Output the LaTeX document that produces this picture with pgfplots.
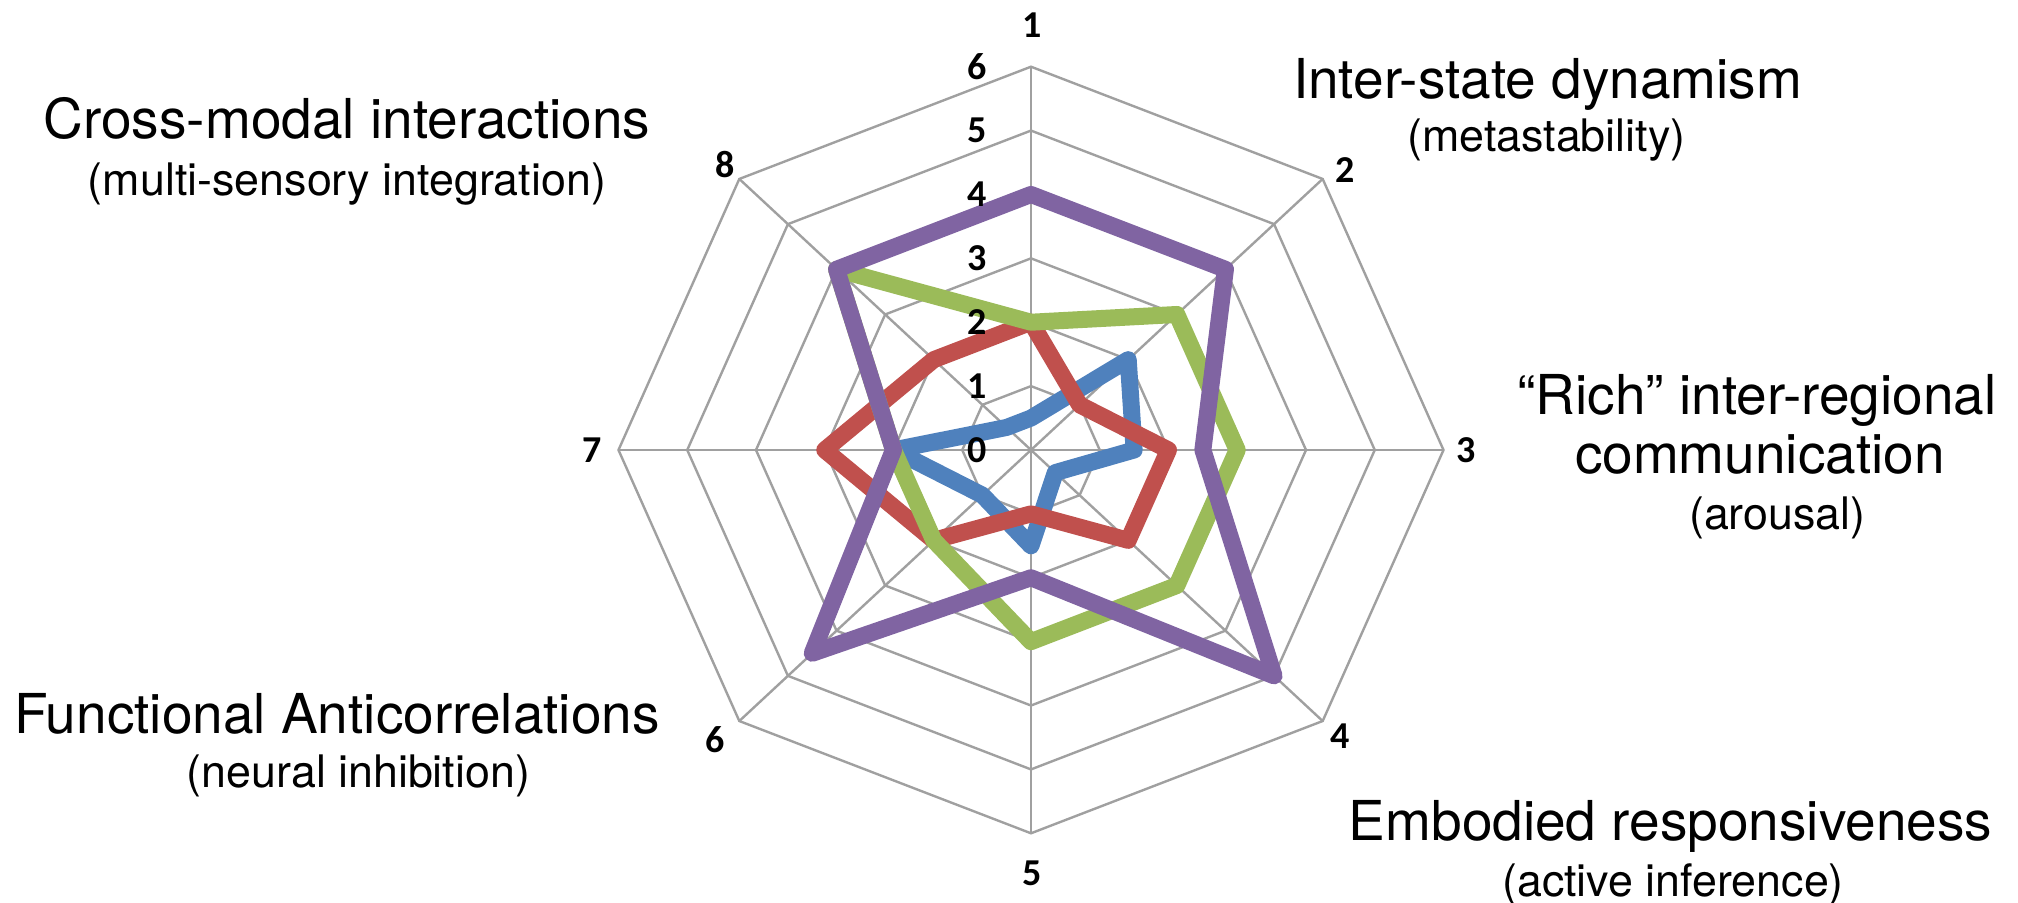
\documentclass[border=0pt]{standalone}
\usepackage{fontspec}
\setmainfont{TeX Gyre Heros}
\newfontfamily\numfont{Carlito}
\usepackage{pgfplots}
\pgfplotsset{compat=1.18}

\definecolor{sBlue}{HTML}{4F81BD}
\definecolor{sRed}{HTML}{C0504D}
\definecolor{sGreen}{HTML}{9BBB59}
\definecolor{sPurple}{HTML}{8064A2}
\definecolor{gridgray}{HTML}{A0A0A0}

\begin{document}
\begin{tikzpicture}
	\begin{axis}[
			at={(0,0)}, anchor=center,
			scale only axis,
			width=412.5pt, height=383.3pt,
			xmin=-6, xmax=6, ymin=-6, ymax=6,
			hide axis, clip=false,
			every axis plot/.append style={data cs=polar, line join=round, line cap=round},
		]
		% octagonal grid: rings 1..6 and the eight spokes
		\pgfplotsinvokeforeach{1,...,6}{
			\addplot[gridgray, line width=1.2pt] coordinates {
				(90,#1) (45,#1) (0,#1) (-45,#1) (-90,#1) (-135,#1) (180,#1) (135,#1) (90,#1)};
		}
		\pgfplotsinvokeforeach{90,45,0,-45,-90,-135,180,135}{
			\addplot[gridgray, line width=1.2pt] coordinates {(#1,0) (#1,6)};
		}

		% series, axes 1..8 clockwise from the top
		\addplot[sBlue, line width=8.5pt] coordinates {
			(90,0.5) (45,2) (0,1.5) (-45,0.5) (-90,1.5) (-135,1) (180,2) (135,0.5) (90,0.5)};
		\addplot[sRed, line width=8.5pt] coordinates {
			(90,2) (45,1) (0,2) (-45,2) (-90,1) (-135,2) (180,3) (135,2) (90,2)};
		\addplot[sGreen, line width=8.5pt] coordinates {
			(90,2) (45,3) (0,3) (-45,3) (-90,3) (-135,2) (180,2) (135,4) (90,2)};
		\addplot[sPurple, line width=8.5pt] coordinates {
			(90,4) (45,4) (0,2.5) (-45,5) (-90,2) (-135,4.5) (180,2) (135,4) (90,4)};
	\end{axis}

	% radial scale
	\begin{scope}[every node/.style={font=\numfont\bfseries\fontsize{19}{22}\selectfont, inner sep=0pt}]
		\foreach \k in {0,...,6} {
			\node at (-27pt, {31.95*\k pt}) {\k};
		}
		\node at (0.5pt, 212.5pt) {1};
		\node at (157pt, 140pt) {2};
		\node at (217.5pt, 0pt) {3};
		\node at (154.5pt, -143pt) {4};
		\node at (0.5pt, -211.5pt) {5};
		\node at (-157.7pt, -145pt) {6};
		\node at (-219.5pt, 0pt) {7};
		\node at (-153pt, 142.5pt) {8};
	\end{scope}

	% category labels
	\tikzset{big/.style={anchor=base, inner sep=0pt, font=\fontsize{27.5}{30}\selectfont},
		small/.style={anchor=base, inner sep=0pt, font=\fontsize{22.4}{26}\selectfont}}
	\node[big] at (-342pt, 155.5pt) {Cross-modal interactions};
	\node[small] at (-342pt, 127pt) {(multi-sensory integration)};
	\node[big] at (258.3pt, 175.5pt) {Inter-state dynamism};
	\node[small] at (257.7pt, 149pt) {(metastability)};
	\node[big] at (363pt, 17.8pt) {“Rich” inter-regional};
	\node[big] at (364.5pt, -11.8pt) {communication};
	\node[small] at (373.2pt, -40pt) {(arousal)};
	\node[big] at (-347pt, -141.8pt) {Functional Anticorrelations};
	\node[small] at (-336.3pt, -168.8pt) {(neural inhibition)};
	\node[big] at (319.8pt, -195.2pt) {Embodied responsiveness};
	\node[small] at (321pt, -223.5pt) {(active inference)};

	\pgfresetboundingbox
	\path (-515.5pt, -226.5pt) rectangle (493.5pt, 225pt);
\end{tikzpicture}
\end{document}
